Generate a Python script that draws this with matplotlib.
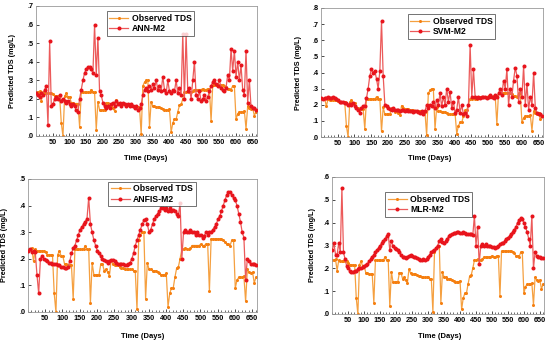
import numpy as np
import matplotlib
matplotlib.use("Agg")
from matplotlib import pyplot as plt
from matplotlib.ticker import FuncFormatter, MultipleLocator

plt.rcParams['font.family'] = ['Liberation Sans', 'DejaVu Sans']

# time axis: one reading every 5 days
days = np.arange(1, 662, 5)

observed = [
    .235, .235, .24, .19, .235, .23, .23, .23, .23, .23,
    .225, .215, .215, .215, .215, .07, .0, .215, .23, .21,
    .21, .18, .18, .175, .175, .175, .05, .235, .235, .235,
    .235, .235, .235, .25, .235, .235, .035, .185, .14, .14,
    .14, .14, .18, .18, .155, .16, .15, .135, .195, .18,
    .175, .175, .175, .17, .165, .165, .16, .16, .16, .16,
    .16, .155, .155, .01, .27, .29, .3, .3, .05, .185,
    .16, .16, .155, .155, .155, .15, .145, .14, .14, .14,
    .145, .02, .07, .09, .09, .13, .165, .17, .2, .235,
    .235, .24, .235, .235, .24, .25, .25, .25, .25, .25,
    .255, .25, .25, .255, .255, .08, .275, .275, .275, .275,
    .275, .275, .275, .27, .265, .255, .255, .25, .27, .27,
    .09, .12, .13, .13, .13, .135, .04, .16, .15, .145,
    .15, .11, .13]

ann_m2 = [
    .23, .22, .21, .23, .22, .25, .27, .06, .51, .16,
    .17, .2, .21, .2, .22, .19, .2, .19, .18, .19,
    .17, .16, .17, .16, .14, .13, .2, .25, .3, .34,
    .36, .37, .37, .36, .34, .6, .33, .53, .24, .22,
    .18, .16, .15, .16, .15, .17, .18, .16, .19, .17,
    .18, .16, .18, .17, .16, .17, .16, .17, .16, .15,
    .16, .14, .15, .17, .22, .25, .26, .24, .27, .25,
    .28, .26, .3, .25, .27, .24, .32, .25, .23, .3,
    .24, .23, .25, .24, .3, .23, .26, .22, .55, .2,
    .55, .24, .26, .2, .3, .4, .22, .2, .24, .19,
    .2, .22, .19, .21, .24, .27, .29, .3, .28, .27,
    .3, .26, .25, .24, .26, .33, .3, .47, .35, .46,
    .32, .4, .3, .38, .25, .22, .46, .18, .3, .16,
    .15, .15, .14]

svm_m2 = [
    .24, .235, .24, .24, .245, .24, .24, .245, .24, .235,
    .23, .22, .215, .215, .21, .21, .2, .205, .2, .21,
    .19, .18, .17, .15, .18, .19, .19, .24, .3, .38,
    .42, .4, .41, .36, .3, .41, .72, .38, .2, .19,
    .18, .175, .17, .18, .17, .165, .17, .16, .165, .17,
    .16, .165, .16, .16, .16, .155, .16, .16, .155, .15,
    .16, .14, .16, .2, .18, .2, .19, .22, .18, .23,
    .2, .27, .19, .25, .2, .3, .22, .28, .18, .22,
    .15, .17, .25, .15, .2, .14, .15, .13, .2, .57,
    .25, .42, .25, .24, .25, .24, .25, .245, .25, .24,
    .25, .26, .25, .24, .26, .25, .27, .3, .26, .35,
    .3, .42, .2, .3, .25, .35, .43, .38, .22, .3,
    .25, .44, .2, .33, .17, .25, .2, .4, .18, .15,
    .14, .14, .13]

anfis_m2 = [
    .23, .235, .225, .23, .225, .14, .07, .2, .21, .2,
    .195, .19, .185, .185, .18, .18, .18, .175, .175, .17,
    .17, .165, .165, .17, .19, .22, .24, .25, .27, .29,
    .31, .32, .33, .34, .35, .43, .33, .3, .27, .25,
    .23, .22, .21, .2, .195, .19, .185, .19, .195, .195,
    .19, .185, .18, .18, .18, .18, .175, .175, .18, .185,
    .2, .22, .25, .27, .29, .31, .33, .345, .35, .33,
    .3, .31, .33, .35, .36, .37, .38, .39, .39, .385,
    .39, .38, .39, .38, .385, .38, .37, .36, .41, .2,
    .3, .31, .3, .3, .31, .3, .3, .29, .3, .29,
    .29, .28, .285, .3, .29, .3, .3, .31, .32, .33,
    .35, .36, .38, .4, .42, .44, .45, .45, .44, .43,
    .42, .4, .37, .34, .3, .28, .12, .2, .19, .18,
    .18, .18, .175]

mlr_m2 = [
    .28, .31, .26, .26, .31, .27, .55, .27, .24, .21,
    .2, .19, .185, .185, .19, .19, .195, .2, .2, .205,
    .21, .215, .22, .23, .24, .25, .26, .27, .28, .29,
    .3, .31, .32, .33, .34, .35, .28, .32, .3, .29,
    .285, .28, .27, .26, .25, .25, .245, .25, .255, .26,
    .255, .25, .25, .245, .24, .235, .235, .24, .235, .24,
    .25, .26, .27, .275, .28, .29, .3, .32, .33, .315,
    .31, .32, .33, .34, .345, .35, .355, .355, .36, .36,
    .355, .355, .36, .355, .35, .35, .35, .35, .345, .43,
    .3, .38, .22, .3, .305, .3, .305, .3, .3, .3,
    .295, .295, .29, .295, .3, .305, .31, .31, .32, .33,
    .335, .34, .35, .36, .37, .38, .4, .41, .42, .415,
    .4, .38, .36, .33, .3, .43, .2, .27, .255, .25,
    .25, .245, .245]

models = ['ANN-M2', 'SVM-M2', 'ANFIS-M2', 'MLR-M2']
predicted = [ann_m2, svm_m2, anfis_m2, mlr_m2]
ymax = [.7, .8, .5, .6]

W, H = 550, 344
fig = plt.figure(figsize=(W / 100, H / 100), dpi=100)

def frac(x0, y0, x1, y1):
    # pixel box (top-left origin) -> figure fraction
    return [x0 / W, 1 - y1 / H, (x1 - x0) / W, (y1 - y0) / H]

boxes = [(36, 6, 257, 136), (321, 8, 543, 137), (28, 179, 257, 312), (332, 177, 544, 314)]
legpos = [(0.32, 0.96), (0.39, 0.95), (0.35, 0.98), (0.25, 0.89)]
ylab_x = [12, 299, 5, 312]
xlab_pos = [(146, 159), (430, 159), (143, 336), (440, 337)]

obs_col = '#F57F10'
obs_line = '#F5A040'
red_col = '#E8141C'
red_line = '#EC5A5A'

fmt = FuncFormatter(lambda v, p: ('%.1f' % v).lstrip('0'))

for k in range(4):
    ax = fig.add_axes(frac(*boxes[k]))
    ax.plot(days, observed, color=obs_line, lw=0.9, marker='o', ms=2.2,
            mfc=obs_col, mec=obs_col, mew=0, label='Observed TDS', zorder=2)
    ax.plot(days, predicted[k], color=red_line, lw=0.9, marker='o', ms=2.9,
            mfc=red_col, mec=red_col, mew=0, label=models[k], zorder=3)
    ax.set_xlim(0, 664)
    ax.set_ylim(0, ymax[k])
    ax.xaxis.set_minor_locator(MultipleLocator(10))
    ax.yaxis.set_major_locator(MultipleLocator(.1))
    ax.yaxis.set_major_formatter(fmt)
    ax.set_xticks(np.arange(50, 651, 50))
    ax.tick_params(axis='both', which='major', labelsize=5.2, length=2.5,
                   width=0.5, direction='in', pad=2)
    ax.tick_params(axis='x', which='minor', length=1.5, width=0.4, direction='in')
    for lab in ax.get_xticklabels() + ax.get_yticklabels():
        lab.set_fontweight('bold')
    for s in ax.spines.values():
        s.set_color('#999999')
        s.set_linewidth(0.6)
    leg = ax.legend(loc='upper left', bbox_to_anchor=legpos[k], fontsize=6.2,
                    frameon=True, fancybox=False, handlelength=2.2,
                    borderpad=0.3, labelspacing=0.15, handletextpad=0.4,
                    borderaxespad=0)
    leg.get_frame().set_edgecolor('#333333')
    leg.get_frame().set_linewidth(0.6)
    for t in leg.get_texts():
        t.set_fontweight('bold')

    bx = boxes[k]
    fig.text(ylab_x[k] / W, 1 - ((bx[1] + bx[3]) / 2) / H, 'Predicted TDS (mg/L)',
             rotation=90, ha='center', va='center', fontsize=5.2, fontweight='bold')
    fig.text(xlab_pos[k][0] / W, 1 - xlab_pos[k][1] / H, 'Time (Days)',
             ha='center', va='center', fontsize=5.5, fontweight='bold')

fig.savefig('out.png', dpi=100)
